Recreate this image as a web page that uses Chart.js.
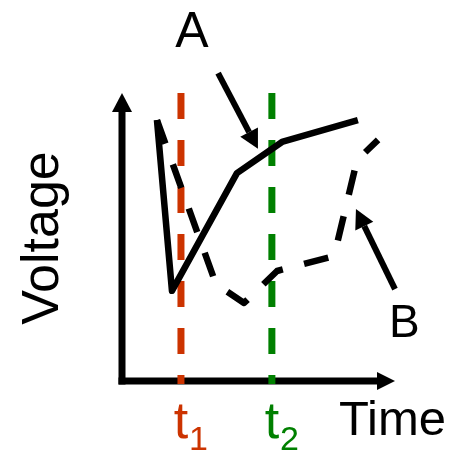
<!DOCTYPE html>
<html>
<head>
<meta charset="utf-8">
<script src="https://cdn.jsdelivr.net/npm/chart.js@4"></script>
<style>
  html, body { margin: 0; padding: 0; background: #fff; }
  #wrap { width: 452px; height: 451px; }
</style>
</head>
<body>
<div id="wrap"><canvas id="sketch" width="452" height="451"></canvas></div>
<script>
// curve A (solid)
const timeA = [1.28, 1.83, 4.21, 5.86, 8.64];
const voltA = [9.06, 3.13, 7.22, 8.30, 9.06];

// curve B (dashed)
const timeB = [1.28, 3.44, 4.47, 5.68, 7.77, 8.61, 9.38];
const voltB = [9.06, 3.37, 2.71, 3.82, 4.34, 7.67, 8.37];

// the two instants marked on the time axis
const markTimes = [2.16, 5.49];
const markSubs = ['1', '2'];
const markColors = ['#cc3300', '#008000'];

// callout arrows [fromTime, fromVolt, toTime, toVolt]
const arrowA = [3.52, 10.69, 4.98, 8.06];
const arrowB = [10.0, 3.19, 8.57, 5.97];

const FONT = '"Liberation Sans", Arial, sans-serif';

function pts(xs, ys) {
  return xs.map((x, i) => ({ x: x, y: ys[i] }));
}

function arrow(ctx, x1, y1, x2, y2, len, half) {
  const a = Math.atan2(y2 - y1, x2 - x1);
  const bx = x2 - len * Math.cos(a), by = y2 - len * Math.sin(a);
  ctx.beginPath();
  ctx.moveTo(x1, y1);
  ctx.lineTo(bx, by);
  ctx.stroke();
  ctx.beginPath();
  ctx.moveTo(x2, y2);
  ctx.lineTo(bx + half * Math.sin(a), by - half * Math.cos(a));
  ctx.lineTo(bx - half * Math.sin(a), by + half * Math.cos(a));
  ctx.closePath();
  ctx.fill();
}

// axes with arrow heads, under the data
const axesPlugin = {
  id: 'axes',
  beforeDatasetsDraw(chart) {
    const ctx = chart.ctx, a = chart.chartArea;
    ctx.save();
    ctx.strokeStyle = '#000';
    ctx.fillStyle = '#000';
    ctx.lineWidth = 7;
    ctx.lineCap = 'butt';
    arrow(ctx, a.left, a.bottom + 3.5, a.left, a.top, 19, 10);
    arrow(ctx, a.left - 3.5, a.bottom, a.right, a.bottom, 18, 9);
    ctx.restore();
  }
};

// labels and callouts on top
const labelsPlugin = {
  id: 'labels',
  afterDraw(chart) {
    const ctx = chart.ctx, xs = chart.scales.x, ys = chart.scales.y;
    ctx.save();
    ctx.strokeStyle = '#000';
    ctx.fillStyle = '#000';
    ctx.lineWidth = 6;
    [arrowA, arrowB].forEach(r => {
      arrow(ctx, xs.getPixelForValue(r[0]), ys.getPixelForValue(r[1]),
        xs.getPixelForValue(r[2]), ys.getPixelForValue(r[3]), 19, 10);
    });

    ctx.textBaseline = 'alphabetic';
    ctx.font = '50px ' + FONT;
    ctx.textAlign = 'center';
    ctx.fillText('A', 192, 47);
    ctx.font = '46px ' + FONT;
    ctx.textAlign = 'left';
    ctx.fillText('B', 389, 337);
    ctx.font = '49px ' + FONT;
    ctx.fillText('Time', 339, 435);

    ctx.save();
    ctx.translate(58, 238);
    ctx.rotate(-Math.PI / 2);
    ctx.font = '52px ' + FONT;
    ctx.textAlign = 'center';
    ctx.fillText('Voltage', 0, 0);
    ctx.restore();

    markTimes.forEach((t, i) => {
      const x = xs.getPixelForValue(t);
      ctx.fillStyle = markColors[i];
      ctx.font = '52px ' + FONT;
      ctx.textAlign = 'center';
      ctx.fillText('t', x, 438);
      ctx.font = '34px ' + FONT;
      ctx.textAlign = 'left';
      ctx.fillText(markSubs[i], x + 8, 450);
    });
    ctx.restore();
  }
};

const datasets = [
  {
    data: pts(timeA, voltA),
    borderColor: '#000',
    borderWidth: 6.5,
    borderJoinStyle: 'round'
  },
  {
    data: pts(timeB, voltB),
    borderColor: '#000',
    borderWidth: 6.5,
    borderDash: [25, 22],
    borderJoinStyle: 'round'
  }
];
markTimes.forEach((t, i) => {
  datasets.push({
    data: [{ x: t, y: 10 }, { x: t, y: -0.1 }],
    borderColor: markColors[i],
    borderWidth: 7,
    borderDash: [26, 21]
  });
});
datasets.forEach(d => {
  d.pointRadius = 0;
  d.tension = 0;
  d.fill = false;
  d.clip = false;
});

new Chart(document.getElementById('sketch'), {
  type: 'line',
  data: { datasets: datasets },
  options: {
    responsive: false,
    animation: false,
    events: [],
    layout: { padding: { left: 122, right: 57, top: 93, bottom: 70 } },
    plugins: { legend: { display: false }, tooltip: { enabled: false } },
    scales: {
      x: { type: 'linear', min: 0, max: 10, display: false },
      y: { type: 'linear', min: 0, max: 10, display: false }
    }
  },
  plugins: [axesPlugin, labelsPlugin]
});
</script>
</body>
</html>
